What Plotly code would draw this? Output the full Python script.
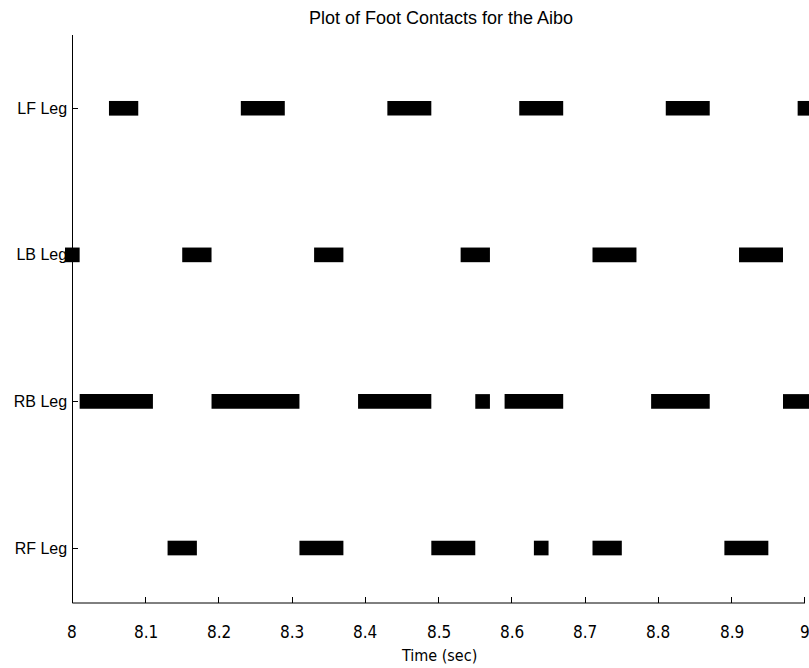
import plotly.graph_objects as go

# Foot contact intervals (start, end) in seconds for each leg
legs = ["RF Leg", "RB Leg", "LB Leg", "LF Leg"]
lf_contacts = [(8.05, 8.09), (8.23, 8.29), (8.43, 8.49), (8.61, 8.67), (8.81, 8.87), (8.99, 9.006)]
lb_contacts = [(7.99, 8.01), (8.15, 8.19), (8.33, 8.37), (8.53, 8.57), (8.71, 8.77), (8.91, 8.97)]
rb_contacts = [(8.01, 8.11), (8.19, 8.31), (8.39, 8.49), (8.55, 8.57), (8.59, 8.67),
               (8.79, 8.87), (8.97, 9.006)]
rf_contacts = [(8.13, 8.17), (8.31, 8.37), (8.49, 8.55), (8.63, 8.65), (8.71, 8.75), (8.89, 8.95)]

x_ticks = [8, 8.1, 8.2, 8.3, 8.4, 8.5, 8.6, 8.7, 8.8, 8.9, 9]
x_tick_labels = ["8", "8.1", "8.2", "8.3", "8.4", "8.5", "8.6", "8.7", "8.8", "8.9", "9"]

contacts = {"LF Leg": lf_contacts, "LB Leg": lb_contacts,
            "RB Leg": rb_contacts, "RF Leg": rf_contacts}

FONT = "Liberation Sans, Arial, Helvetica, sans-serif"
NARROW = "DejaVu Sans Condensed, Liberation Sans, Arial, sans-serif"

W, H = 809, 668
X_MIN, X_MAX = 7.99, 9.0055      # plotting window (slightly wider than the axes)
AX_LEFT_PX = 72                  # pixel position of x = 8
PX_PER_SEC = 733
margin_l = AX_LEFT_PX - (8 - X_MIN) * PX_PER_SEC
margin_r = W - margin_l - (X_MAX - X_MIN) * PX_PER_SEC
plot_w = W - margin_l - margin_r
yaxis_pos = (AX_LEFT_PX - margin_l) / plot_w

fig = go.Figure()
for i, leg in enumerate(legs):
    spans = contacts[leg]
    fig.add_trace(go.Bar(
        orientation="h",
        y=[i + 1] * len(spans),
        x=[e - s for s, e in spans],
        base=[s for s, e in spans],
        width=0.1,
        marker=dict(color="black", line=dict(width=0)),
        showlegend=False,
        hoverinfo="skip",
    ))

# bottom axis line spanning 8 .. 9 only
fig.add_shape(type="line", xref="x", yref="paper", x0=8, x1=9, y0=0, y1=0,
              line=dict(color="black", width=1))

# x tick labels placed below the axis line
for v, t in zip(x_ticks, x_tick_labels):
    fig.add_annotation(x=v, xref="x", y=0, yref="paper", text=t, showarrow=False,
                       xanchor="center", yanchor="middle", yshift=-29,
                       font=dict(size=17, family=NARROW, color="black"))

# x axis title
fig.add_annotation(x=8.5, xref="x", y=0, yref="paper", text="Time (sec)", showarrow=False,
                   xanchor="center", yanchor="middle", yshift=-52,
                   font=dict(size=16, family=NARROW, color="black"))

fig.update_layout(
    width=W, height=H,
    margin=dict(l=margin_l, r=max(margin_r, 0), t=35, b=65),
    paper_bgcolor="white", plot_bgcolor="white",
    barmode="overlay",
    font=dict(family=FONT, color="black"),
    title=dict(text="Plot of Foot Contacts for the Aibo", x=441 / W, xanchor="center",
               xref="container", y=1 - 18 / H, yanchor="middle",
               font=dict(size=18, family=FONT)),
    xaxis=dict(
        range=[X_MIN, X_MAX],
        tickvals=x_ticks,
        showticklabels=False,
        ticks="inside", ticklen=6, tickcolor="black", tickwidth=1,
        showline=False,
        showgrid=False, zeroline=False,
    ),
    yaxis=dict(
        range=[0.625, 4.5],
        anchor="free", position=yaxis_pos,
        tickvals=[1, 2, 3, 4], ticktext=legs,
        ticks="inside", ticklen=5, tickcolor="black", tickwidth=1,
        showline=True, linecolor="black", linewidth=1,
        showgrid=False, zeroline=False,
        tickfont=dict(size=16, family=FONT),
        ticklabelstandoff=2,
    ),
)

fig.write_html("out.html")
